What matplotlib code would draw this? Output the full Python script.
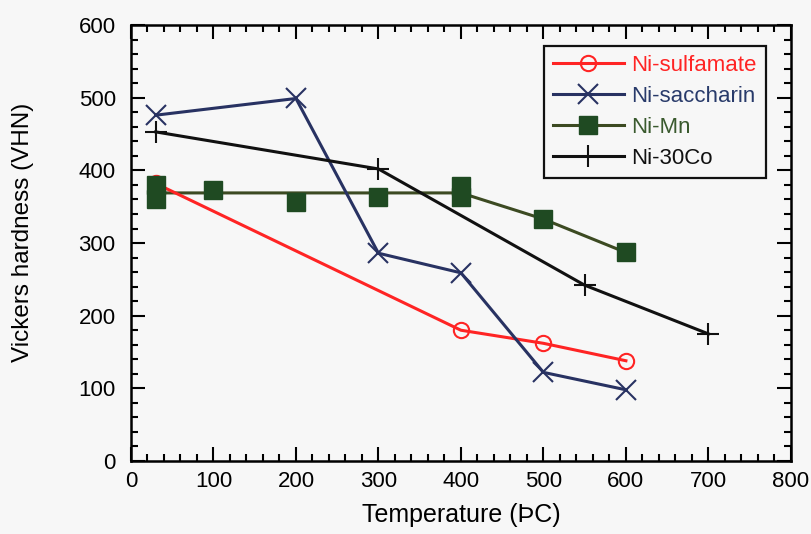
import matplotlib
matplotlib.use("Agg")
import matplotlib.pyplot as plt
from matplotlib.lines import Line2D
from matplotlib.ticker import MultipleLocator

plt.rcParams['font.family'] = ['Liberation Sans', 'DejaVu Sans']

# Data
sulf_T = [30, 400, 500, 600]
sulf_H = [382, 180, 162, 138]

sacc_T = [30, 200, 300, 400, 500, 600]
sacc_H = [476, 499, 286, 259, 122, 98]

mn_line_T = [30, 100, 200, 300, 400, 500, 600]
mn_line_H = [369, 369, 369, 369, 369, 333, 287]
mn_pts_T = [30, 30, 100, 200, 300, 400, 400, 500, 600]
mn_pts_H = [380, 360, 373, 356, 364, 378, 363, 333, 287]

co_T = [30, 300, 550, 700]
co_H = [453, 402, 242, 175]

labels = ['Ni-sulfamate', 'Ni-saccharin', 'Ni-Mn', 'Ni-30Co']
c_red = '#ff2424'
c_navy = '#283262'
c_mnline = '#3c4a22'
c_mnmark = '#1f4a22'
c_black = '#111111'
label_colors = [c_red, '#283a6a', '#3a5a2e', c_black]

fig = plt.figure(figsize=(8.12, 5.34), dpi=100, facecolor='#f7f7f7')
ax = fig.add_axes([0.1613, 0.1367, 0.8127, 0.8163])
ax.set_facecolor('#f7f7f7')

ax.plot(sulf_T, sulf_H, color=c_red, lw=2.2, marker='o', ms=11, mfc='none',
        mec=c_red, mew=1.5, zorder=3)
ax.plot(sacc_T, sacc_H, color=c_navy, lw=2.2, marker='x', ms=15, mew=1.5, zorder=3)
ax.plot(mn_line_T, mn_line_H, color=c_mnline, lw=2.2, zorder=2)
ax.plot(mn_pts_T, mn_pts_H, ls='none', marker='s', ms=13, color=c_mnmark, zorder=4)
ax.plot(co_T, co_H, color=c_black, lw=2.2, marker='+', ms=16, mew=1.5, zorder=3)

ax.set_xlim(0, 800)
ax.set_ylim(0, 600)
ax.xaxis.set_major_locator(MultipleLocator(100))
ax.xaxis.set_minor_locator(MultipleLocator(20))
ax.yaxis.set_major_locator(MultipleLocator(100))
ax.yaxis.set_minor_locator(MultipleLocator(20))
ax.tick_params(which='both', direction='in', top=True, right=True, width=1.5,
               labelsize=16)
ax.tick_params(axis='x', pad=7)
ax.tick_params(axis='y', pad=11)
ax.tick_params(which='major', length=10)
ax.tick_params(which='minor', length=5)
for s in ax.spines.values():
    s.set_linewidth(1.8)

ax.set_xlabel('Temperature (ÞC)', fontsize=18, labelpad=8)
ax.set_ylabel('Vickers hardness (VHN)', fontsize=17.5, va='center')
ax.yaxis.set_label_coords(-0.164, 0.525)

handles = [
    Line2D([], [], color=c_red, lw=2.2, marker='o', ms=11, mfc='none', mec=c_red, mew=1.5),
    Line2D([], [], color=c_navy, lw=2.2, marker='x', ms=15, mew=1.5),
    Line2D([], [], color=c_mnline, lw=2.2, marker='s', ms=13, mfc=c_mnmark, mec=c_mnmark),
    Line2D([], [], color=c_black, lw=2.2, marker='|', ms=16, mew=1.5),
]
leg = ax.legend(handles, labels, loc='upper right', bbox_to_anchor=(0.962, 0.952),
                fontsize=16, frameon=True, fancybox=False, edgecolor='#111111',
                facecolor='#f7f7f7', framealpha=1, handlelength=3.2,
                labelspacing=0.45, borderpad=0.4, handletextpad=0.35, borderaxespad=0)
leg.get_frame().set_linewidth(1.6)
for t, c in zip(leg.get_texts(), label_colors):
    t.set_color(c)

fig.savefig('out.png', dpi=100, facecolor=fig.get_facecolor())
